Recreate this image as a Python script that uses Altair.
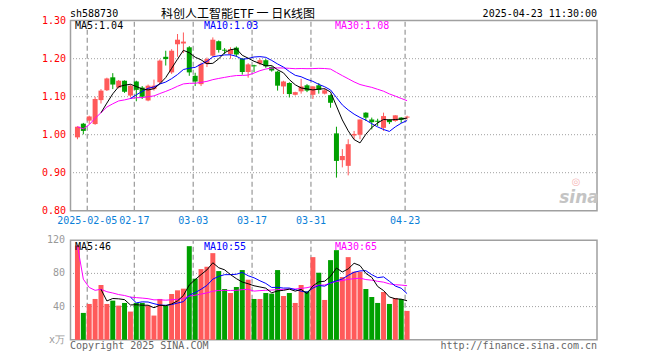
import altair as alt
import pandas as pd

# ---------------- data ----------------
day_index = list(range(57))
open_px = [0.993, 1.029, 1.037, 1.028, 1.091, 1.117, 1.151, 1.124, 1.142, 1.103,
           1.140, 1.124, 1.090, 1.120, 1.138, 1.205, 1.164, 1.238, 1.240, 1.230,
           1.155, 1.133, 1.186, 1.208, 1.246, 1.222, 1.212, 1.229, 1.200, 1.165,
           1.181, 1.187, 1.196, 1.178, 1.166, 1.127, 1.136, 1.105, 1.114, 1.130,
           1.105, 1.130, 1.108, 1.104, 1.0035, 0.933, 0.918, 0.998, 1.000, 1.058,
           1.040, 1.035, 1.018, 1.040, 1.036, 1.045, 1.045]
high_px = [1.022, 1.031, 1.050, 1.100, 1.120, 1.150, 1.162, 1.144, 1.143, 1.132,
           1.142, 1.128, 1.132, 1.145, 1.198, 1.221, 1.225, 1.265, 1.269, 1.233,
           1.163, 1.190, 1.203, 1.256, 1.248, 1.228, 1.230, 1.232, 1.202, 1.188,
           1.184, 1.200, 1.199, 1.180, 1.168, 1.142, 1.138, 1.113, 1.147, 1.133,
           1.128, 1.136, 1.122, 1.106, 1.021, 0.962, 0.988, 1.010, 1.040, 1.059,
           1.045, 1.042, 1.058, 1.041, 1.051, 1.046, 1.050]
low_px = [0.988, 1.001, 1.028, 1.026, 1.082, 1.115, 1.120, 1.122, 1.110, 1.098,
          1.088, 1.094, 1.088, 1.116, 1.134, 1.182, 1.160, 1.205, 1.215, 1.155,
          1.128, 1.128, 1.178, 1.205, 1.216, 1.212, 1.200, 1.205, 1.158, 1.150,
          1.165, 1.183, 1.176, 1.166, 1.116, 1.107, 1.098, 1.103, 1.108, 1.112,
          1.094, 1.108, 1.106, 1.071, 0.887, 0.914, 0.893, 0.988, 0.988, 1.036,
          1.014, 1.023, 1.010, 1.028, 1.034, 1.031, 1.040]
close_px = [1.021, 1.010, 1.048, 1.094, 1.116, 1.148, 1.132, 1.142, 1.113, 1.129,
            1.118, 1.100, 1.129, 1.129, 1.195, 1.199, 1.221, 1.250, 1.245, 1.164,
            1.140, 1.186, 1.199, 1.250, 1.223, 1.221, 1.225, 1.211, 1.165, 1.185,
            1.180, 1.196, 1.180, 1.169, 1.129, 1.140, 1.107, 1.112, 1.127, 1.116,
            1.127, 1.118, 1.117, 1.084, 0.931, 0.944, 0.975, 1.002, 1.040, 1.045,
            1.033, 1.034, 1.049, 1.033, 1.051, 1.039, 1.047]
volume_wan = [113.6, 32.4, 43.2, 49.2, 66.0, 43.2, 47.2, 41.2, 44.4, 34.0,
              44.4, 44.4, 41.2, 29.2, 49.2, 41.2, 55.2, 59.6, 61.6, 112.8,
              73.6, 85.2, 88.0, 104.4, 82.8, 61.2, 56.4, 63.6, 84.0, 72.4,
              49.2, 49.2, 56.4, 55.6, 84.0, 52.8, 56.4, 44.4, 66.0, 58.4,
              99.6, 80.8, 48.0, 96.0, 108.0, 75.6, 99.6, 82.0, 82.0, 61.2,
              51.6, 44.4, 57.6, 43.2, 50.4, 49.2, 34.8]

grid_days = [2, 10, 20, 30, 40, 56]
grid_labels = ["2025-02-05", "02-17", "03-03", "03-17", "03-31", "04-23"]
price_ticks = [1.30, 1.20, 1.10, 1.00, 0.90, 0.80]
price_tick_labels = ["1.30", "1.20", "1.10", "1.00", "0.90", "0.80"]
price_grid = [1.20, 1.10, 1.00, 0.90]
vol_ticks = [120, 80, 40, 0]
vol_tick_labels = ["120", "80", "40", "x万"]
vol_grid = [80, 40]

# ---------------- style ----------------
RED = "#ff5a5a"
GREEN = "#00a000"
MONO = "DejaVu Sans Mono"
FRAME = "#a0a0a0"
GRID = "#a0a0a0"
W, H = 527, 320


def XS():
    return alt.Scale(domain=[-5 / 12, 87 + 5 / 12], nice=False, zero=False)


def PS():
    return alt.Scale(domain=[0.8, 1.3], range=[190.7, 0.7], nice=False, zero=False)


def VS():
    return alt.Scale(domain=[0, 120], range=[319.8, 220.2], nice=False, zero=False)


df = pd.DataFrame(dict(i=day_index, open=open_px, high=high_px, low=low_px,
                       close=close_px, vol=volume_wan))
gdf = pd.DataFrame(dict(day=grid_days, lab=grid_labels))
one = pd.DataFrame({"a": [0]})

colr = alt.Color("dir:N", scale=alt.Scale(domain=["up", "down"], range=[RED, GREEN]), legend=None)


def X():
    return alt.X("i:Q", scale=XS(), axis=None)


def base():
    return alt.Chart(df).transform_calculate(
        dir='datum.close >= datum.open ? "up" : "down"',
        btop="max(datum.open, datum.close, min(datum.open, datum.close) + 0.0027)",
        bbot="min(datum.open, datum.close)",
    )


def txt(s, x, y, color="black", align="left", size=10, font=MONO, **kw):
    return alt.Chart(one).mark_text(text=s, align=align, baseline="middle", fontSize=size,
                                    font=font, color=color, **kw).encode(
        x=alt.value(x), y=alt.value(y))


def ma(field, n, start, color, scale):
    return alt.Chart(df).transform_window(
        m=f"mean({field})", frame=[-(n - 1), 0], sort=[alt.SortField("i")]
    ).transform_filter(f"datum.i >= {start}").mark_line(
        strokeWidth=1, color=color, interpolate="linear"
    ).encode(x=X(), y=alt.Y("m:Q", scale=scale, axis=None), order="i:Q")


layers = []

# ---------------- price panel ----------------
layers.append(alt.Chart(pd.DataFrame({"v": price_grid})).mark_rule(
    color=GRID, strokeDash=[1, 2], strokeWidth=1).encode(
    y=alt.Y("v:Q", scale=PS(), axis=None), x=alt.value(0), x2=alt.value(W)))
layers.append(alt.Chart(gdf).transform_calculate(gx="datum.day - 1/3", lo="0.8", hi="1.3").mark_rule(
    color=GRID, strokeDash=[5, 3], strokeWidth=1.3).encode(
    x=alt.X("gx:Q", scale=XS(), axis=None),
    y=alt.Y("lo:Q", scale=PS(), axis=None), y2="hi:Q"))
layers.append(alt.Chart(one).mark_rect(fillOpacity=0, stroke=FRAME, strokeWidth=1.5).encode(
    x=alt.value(0.5), x2=alt.value(W), y=alt.value(0.5), y2=alt.value(190.7)))
layers.append(base().mark_rule(strokeWidth=1).encode(
    x=X(), y=alt.Y("low:Q", scale=PS(), axis=None), y2="high:Q", color=colr))
layers.append(base().mark_bar(size=5).encode(
    x=X(), y=alt.Y("bbot:Q", scale=PS(), axis=None), y2="btop:Q", color=colr))
layers.append(ma("close", 30, 0, "#ff00ff", PS()))
layers.append(ma("close", 10, 9, "#0000ff", PS()))
layers.append(ma("close", 5, 4, "#000000", PS()))
layers.append(alt.Chart(pd.DataFrame({"v": price_ticks, "lab": price_tick_labels})).mark_text(
    align="right", baseline="middle", font=MONO, fontSize=10, color="#ff0000").encode(
    y=alt.Y("v:Q", scale=PS(), axis=None), x=alt.value(-4), text="lab:N"))
layers.append(alt.Chart(gdf).transform_calculate(gx="datum.day - 1/3").mark_text(
    align="center", baseline="middle", font=MONO, fontSize=10, color="#0a80d8").encode(
    x=alt.X("gx:Q", scale=XS(), axis=None), y=alt.value(200.5), text="lab:N"))
layers += [
    txt("MA5:1.04", 5, 6),
    txt("MA10:1.03", 134, 6, color="#0000ff"),
    txt("MA30:1.08", 265, 6, color="#ff00ff"),
    txt("sh588730", 0, -6.5),
    txt("科创人工智能ETF  一  日K线图", 168, -6, align="center", size=12,
        font="Noto Sans CJK SC"),
    txt("2025-04-23 11:30:00", W, -6.5, align="right"),
    txt("sina", 509, 178, color="#c4c4c4", align="center", size=17, font="DejaVu Sans",
        fontStyle="italic", fontWeight="bold"),
    txt("◎", 506, 162, color="#f6b8b8", align="center", size=10, font="DejaVu Sans"),
]

# ---------------- volume panel ----------------
layers.append(alt.Chart(pd.DataFrame({"v": vol_grid})).mark_rule(
    color=GRID, strokeDash=[1, 2], strokeWidth=1).encode(
    y=alt.Y("v:Q", scale=VS(), axis=None), x=alt.value(0), x2=alt.value(W)))
layers.append(alt.Chart(gdf).transform_calculate(gx="datum.day - 1/3", lo="0", hi="120").mark_rule(
    color=GRID, strokeDash=[5, 3], strokeWidth=1.3).encode(
    x=alt.X("gx:Q", scale=XS(), axis=None),
    y=alt.Y("lo:Q", scale=VS(), axis=None), y2="hi:Q"))
layers.append(alt.Chart(one).mark_rect(fillOpacity=0, stroke=FRAME, strokeWidth=1.5).encode(
    x=alt.value(0.5), x2=alt.value(W), y=alt.value(220.2), y2=alt.value(319.8)))
layers.append(base().transform_calculate(zero="0").mark_bar(size=5).encode(
    x=X(), y=alt.Y("vol:Q", scale=VS(), axis=None), y2="zero:Q", color=colr))
layers.append(ma("vol", 30, 0, "#ff00ff", VS()))
layers.append(ma("vol", 10, 9, "#0000ff", VS()))
layers.append(ma("vol", 5, 4, "#000000", VS()))
layers.append(alt.Chart(pd.DataFrame({"v": vol_ticks, "lab": vol_tick_labels})).mark_text(
    align="right", baseline="middle", font=MONO, fontSize=10, color="#999999").encode(
    y=alt.Y("v:Q", scale=VS(), axis=None), x=alt.value(-5), text="lab:N"))
layers += [
    txt("MA5:46", 5, 226.5),
    txt("MA10:55", 134, 226.5, color="#0000ff"),
    txt("MA30:65", 265, 226.5, color="#ff00ff"),
    txt("Copyright 2025 SINA.COM", 0, 326, color="#666666"),
    txt("http://finance.sina.com.cn", W, 326, color="#666666", align="right"),
]

chart = alt.layer(*layers).resolve_scale(y="independent").properties(
    width=W, height=H,
    autosize=alt.AutoSizeParams(type="none"),
    padding={"left": 62, "top": 12, "right": 55, "bottom": 12},
).configure_view(stroke=None)

chart.save("out.html", embed_options={"renderer": "svg", "actions": False})
